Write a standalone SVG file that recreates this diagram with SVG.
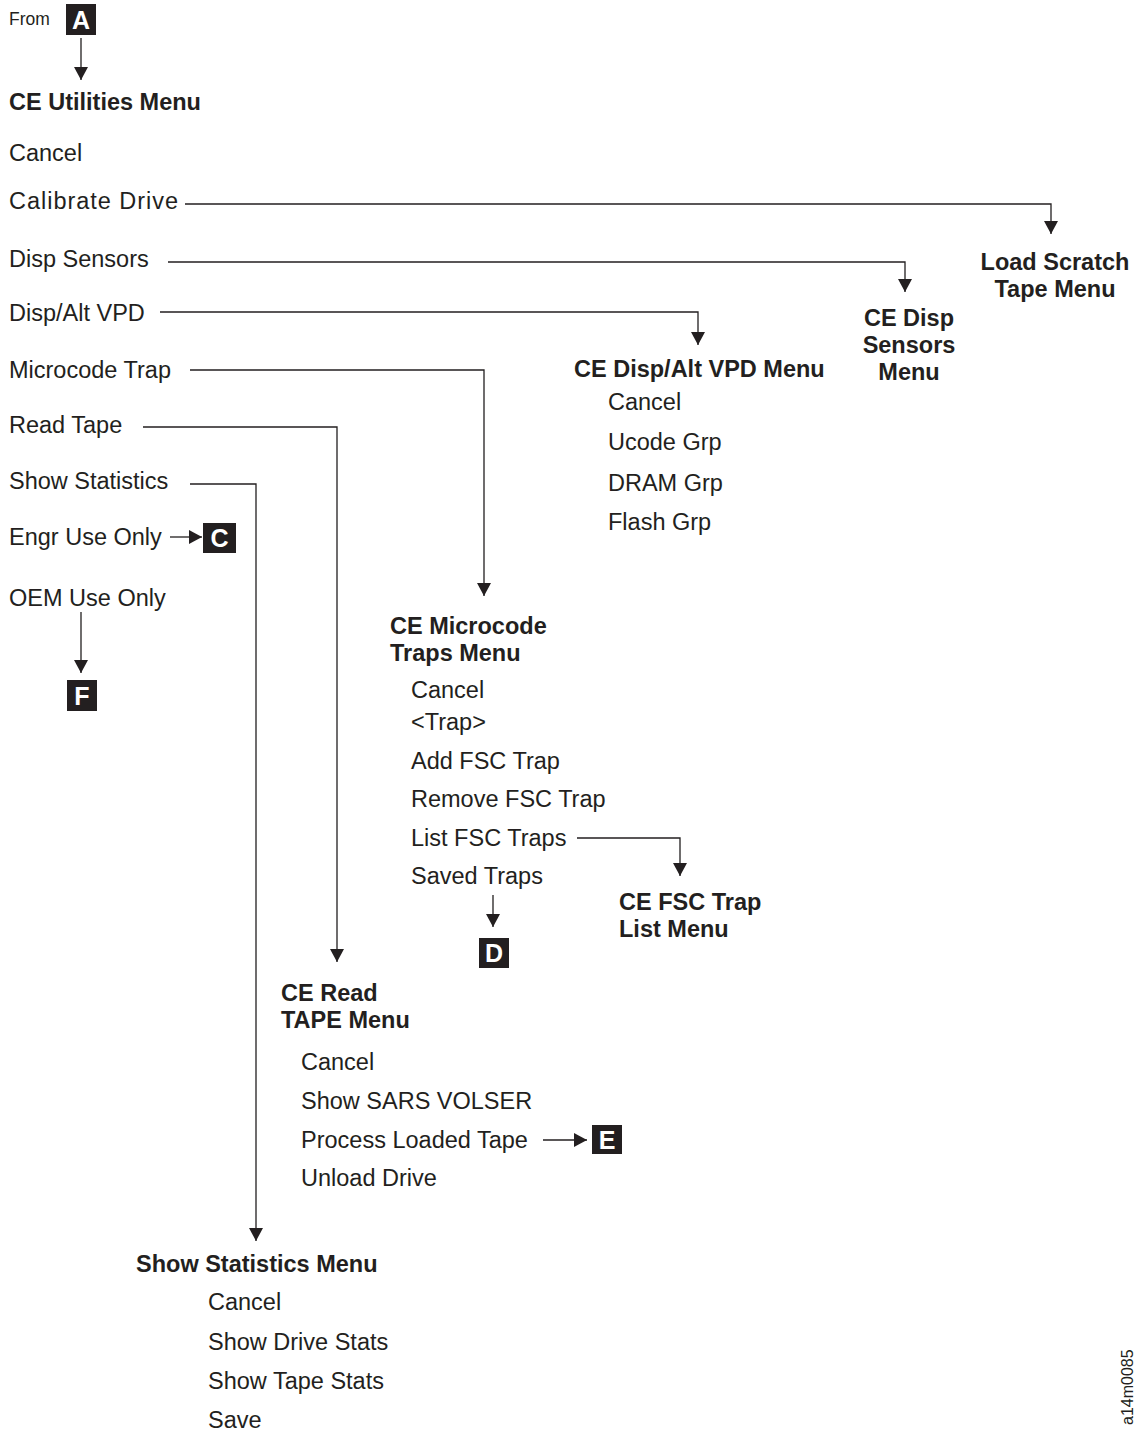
<svg xmlns="http://www.w3.org/2000/svg" width="1138" height="1432" viewBox="0 0 1138 1432">
  <defs>
    <marker id="arrow" markerUnits="userSpaceOnUse" markerWidth="16" markerHeight="14" viewBox="0 0 16 14" refX="13" refY="7" orient="auto">
      <path d="M0,0 L13,7 L0,14 Z" fill="#231f20"/>
    </marker>
    <style>
      text { font-family: "Liberation Sans", Arial, sans-serif; fill: #231f20; }
      .item { font-size: 23.5px; }
      .title { font-size: 23.5px; font-weight: bold; }
      .mid { text-anchor: middle; }
      .small { font-size: 17.5px; }
      .tag { fill: #231f20; }
      .tagtext { font-size: 25px; font-weight: bold; fill: #ffffff; text-anchor: middle; }
      .link { fill: none; stroke: #231f20; stroke-width: 1.3; }
      .arrowed { marker-end: url(#arrow); }
      .code { font-size: 16px; }
    </style>
  </defs>

  <!-- Entry point -->
  <g id="from-a">
    <text class="small" x="9" y="25">From</text>
    <rect class="tag" x="66" y="4" width="30" height="31"/>
    <text class="tagtext" x="81" y="29">A</text>
  </g>

  <!-- Main utilities menu -->
  <g id="ce-utilities-menu">
    <text class="title" x="9" y="110">CE Utilities Menu</text>
    <text class="item" x="9" y="161">Cancel</text>
    <text class="item" x="9" y="209" textLength="169" lengthAdjust="spacing">Calibrate Drive</text>
    <text class="item" x="9" y="267">Disp Sensors</text>
    <text class="item" x="9" y="321">Disp/Alt VPD</text>
    <text class="item" x="9" y="378">Microcode Trap</text>
    <text class="item" x="9" y="433">Read Tape</text>
    <text class="item" x="9" y="489">Show Statistics</text>
    <text class="item" x="9" y="545">Engr Use Only</text>
    <text class="item" x="9" y="606">OEM Use Only</text>
  </g>

  <g id="tag-c">
    <rect class="tag" x="203" y="523" width="33" height="30"/>
    <text class="tagtext" x="219.5" y="547">C</text>
  </g>

  <g id="tag-f">
    <rect class="tag" x="67" y="680" width="30" height="31"/>
    <text class="tagtext" x="82" y="705">F</text>
  </g>

  <g id="load-scratch-menu">
    <text class="title mid" x="1055" y="270">Load Scratch</text>
    <text class="title mid" x="1055" y="297">Tape Menu</text>
  </g>

  <g id="disp-sensors-menu">
    <text class="title mid" x="909" y="326">CE Disp</text>
    <text class="title mid" x="909" y="353">Sensors</text>
    <text class="title mid" x="909" y="380">Menu</text>
  </g>

  <g id="disp-alt-vpd-menu">
    <text class="title" x="574" y="377">CE Disp/Alt VPD Menu</text>
    <text class="item" x="608" y="410">Cancel</text>
    <text class="item" x="608" y="450">Ucode Grp</text>
    <text class="item" x="608" y="491">DRAM Grp</text>
    <text class="item" x="608" y="530">Flash Grp</text>
  </g>

  <g id="microcode-traps-menu">
    <text class="title" x="390" y="634">CE Microcode</text>
    <text class="title" x="390" y="661">Traps Menu</text>
    <text class="item" x="411" y="698">Cancel</text>
    <text class="item" x="411" y="730">&lt;Trap&gt;</text>
    <text class="item" x="411" y="769">Add FSC Trap</text>
    <text class="item" x="411" y="807">Remove FSC Trap</text>
    <text class="item" x="411" y="846">List FSC Traps</text>
    <text class="item" x="411" y="884">Saved Traps</text>
  </g>

  <g id="fsc-trap-list-menu">
    <text class="title" x="619" y="910">CE FSC Trap</text>
    <text class="title" x="619" y="937">List Menu</text>
  </g>

  <g id="tag-d">
    <rect class="tag" x="479" y="938" width="30" height="30"/>
    <text class="tagtext" x="494" y="962">D</text>
  </g>

  <g id="read-tape-menu">
    <text class="title" x="281" y="1001">CE Read</text>
    <text class="title" x="281" y="1028">TAPE Menu</text>
    <text class="item" x="301" y="1070">Cancel</text>
    <text class="item" x="301" y="1109">Show SARS VOLSER</text>
    <text class="item" x="301" y="1148">Process Loaded Tape</text>
    <text class="item" x="301" y="1186">Unload Drive</text>
  </g>

  <g id="tag-e">
    <rect class="tag" x="592" y="1125" width="30" height="29"/>
    <text class="tagtext" x="607" y="1149">E</text>
  </g>

  <g id="show-statistics-menu">
    <text class="title" x="136" y="1272">Show Statistics Menu</text>
    <text class="item" x="208" y="1310">Cancel</text>
    <text class="item" x="208" y="1350">Show Drive Stats</text>
    <text class="item" x="208" y="1389">Show Tape Stats</text>
    <text class="item" x="208" y="1428">Save</text>
  </g>

  <!-- Figure code -->
  <text class="code" transform="translate(1133,1425) rotate(-90)">a14m0085</text>

  <!-- Connectors -->
  <g id="connectors">
    <polyline class="link arrowed" points="81,38 81,80"/>
    <polyline class="link arrowed" points="185,204 1051,204 1051,234"/>
    <polyline class="link arrowed" points="168,262 905,262 905,292"/>
    <polyline class="link arrowed" points="160,312 698,312 698,345"/>
    <polyline class="link arrowed" points="190,370 484,370 484,596"/>
    <polyline class="link arrowed" points="143,427 337,427 337,962"/>
    <polyline class="link arrowed" points="190,484 256,484 256,1241"/>
    <polyline class="link arrowed" points="170,537 202,537"/>
    <polyline class="link arrowed" points="81,612 81,673"/>
    <polyline class="link arrowed" points="577,838 680,838 680,876"/>
    <polyline class="link arrowed" points="493,895 493,927"/>
    <polyline class="link arrowed" points="543,1140 587,1140"/>
  </g>
</svg>
